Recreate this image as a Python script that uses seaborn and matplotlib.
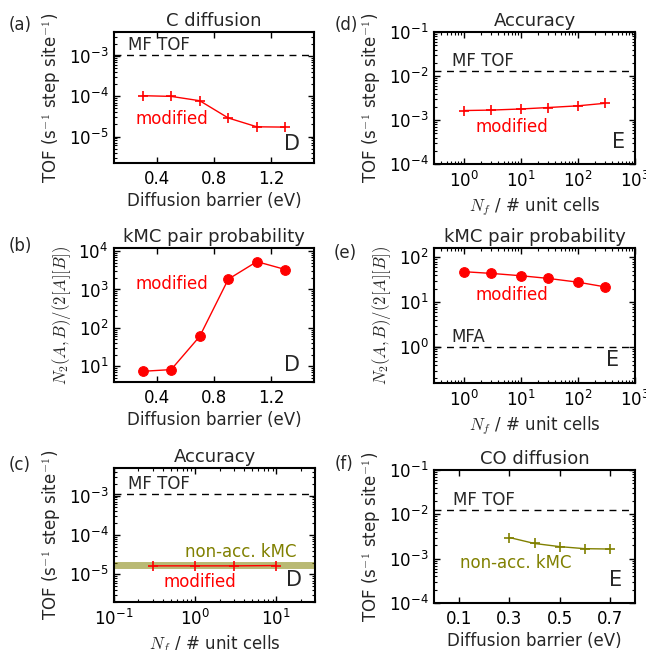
import numpy as np
import pandas as pd
import seaborn as sns
import matplotlib
matplotlib.use('Agg')
import matplotlib.pyplot as plt

# (a) C diffusion
a_barrier = [0.3, 0.5, 0.7, 0.9, 1.1, 1.3]
a_tof = [1.04e-4, 1.0e-4, 7.8e-5, 2.9e-5, 1.75e-5, 1.72e-5]
a_mf = 1.1e-3
# (b) pair probability vs C barrier
b_barrier = [0.3, 0.5, 0.7, 0.9, 1.1, 1.3]
b_pair = [7.4, 8.2, 60, 1850, 5300, 3300]
# (c) accuracy D
c_nf = [0.3, 1, 3, 10]
c_tof = [1.65e-5, 1.65e-5, 1.65e-5, 1.68e-5]
c_mf = 1.1e-3
c_nonacc = 1.7e-5
# (d) accuracy E
d_nf = [1, 3, 10, 30, 100, 300]
d_tof = [1.64e-3, 1.68e-3, 1.78e-3, 1.92e-3, 2.1e-3, 2.4e-3]
d_mf = 1.3e-2
# (e) pair probability E
e_nf = [1, 3, 10, 30, 100, 300]
e_pair = [48, 44, 39, 34, 28, 22]
e_mfa = 1.0
# (f) CO diffusion
f_barrier = [0.3, 0.4, 0.5, 0.6, 0.7]
f_tof = [3.0e-3, 2.2e-3, 1.87e-3, 1.68e-3, 1.65e-3]
f_mf = 1.28e-2

sns.set_style('ticks')
plt.rcParams['font.family'] = ['DejaVu Sans']
plt.rcParams['mathtext.fontset'] = 'cm'
plt.rcParams['font.size'] = 12
plt.rcParams['axes.linewidth'] = 1.5
for ax_ in ['xtick', 'ytick']:
    plt.rcParams[ax_ + '.direction'] = 'in'
    plt.rcParams[ax_ + '.major.size'] = 4
    plt.rcParams[ax_ + '.minor.size'] = 2
    plt.rcParams[ax_ + '.major.width'] = 1
    plt.rcParams[ax_ + '.minor.width'] = 0.8
    plt.rcParams[ax_ + '.color'] = 'black'
    plt.rcParams[ax_ + '.labelsize'] = 12
plt.rcParams['xtick.top'] = True
plt.rcParams['ytick.right'] = True
plt.rcParams['xtick.major.pad'] = 5
plt.rcParams['ytick.major.pad'] = 4

W, H = 646, 650
fig = plt.figure(figsize=(W / 100, H / 100), dpi=100)

def box(l, t, r, b):
    return fig.add_axes([l / W, 1 - b / H, (r - l) / W, (b - t) / H])

tof_label = 'TOF (s$^{-1}$ step site$^{-1}$)'
pair_label = '$N_2(A,B)/(2[A][B])$'
nf_label = '$N_f$ / # unit cells'
bar_label = 'Diffusion barrier (eV)'
red = '#ff0000'
olive = '#808000'
fs = 12

def decorate(ax, title, tag, tag_xy, ylab, xlab):
    ax.set_title(title, fontsize=13, pad=4)
    ax.set_ylabel(ylab, fontsize=fs)
    ax.set_xlabel(xlab, fontsize=fs, labelpad=3)
    fig.text(tag_xy[0] / W, 1 - tag_xy[1] / H, tag, fontsize=fs, ha='left', va='center')
    for s in ax.spines.values():
        s.set_visible(True)
        s.set_color('black')
    ax.tick_params(which='both', top=True, right=True, direction='in')

def hline_text(ax, y, label, x0):
    ax.axhline(y, color='black', ls='--', lw=1, dashes=(5, 4))
    ax.text(x0, y * 1.03, label, transform=ax.get_yaxis_transform(), fontsize=fs,
            ha='left', va='bottom')

mk = dict(marker='+', markersize=7.5, markeredgewidth=1.2, lw=1)

# (a)
ax = box(114, 32, 314, 163)
ax.set_yscale('log')
sns.lineplot(x=a_barrier, y=a_tof, ax=ax, color=red, markeredgecolor=red, **mk)
ax.set_xlim(0.1, 1.5)
ax.set_ylim(2.2e-6, 4e-3)
ax.set_xticks([0.4, 0.8, 1.2])
hline_text(ax, a_mf, 'MF TOF', 0.07)
ax.text(0.105, 0.336, 'modified', color=red, transform=ax.transAxes, fontsize=fs, va='center')
ax.text(0.93, 0.07, 'D', transform=ax.transAxes, fontsize=15, ha='right', va='bottom')
decorate(ax, 'C diffusion', '(a)', (9, 25), tof_label, bar_label)

# (b)
ax = box(114, 248, 314, 382)
ax.set_yscale('log')
sns.lineplot(x=b_barrier, y=b_pair, ax=ax, color=red, marker='o', markersize=7,
             markeredgecolor=red, lw=1)
ax.set_xlim(0.1, 1.5)
ax.set_ylim(3.9, 1.2e4)
ax.set_xticks([0.4, 0.8, 1.2])
ax.text(0.105, 0.73, 'modified', color=red, transform=ax.transAxes, fontsize=fs, va='center')
ax.text(0.93, 0.05, 'D', transform=ax.transAxes, fontsize=15, ha='right', va='bottom')
decorate(ax, 'kMC pair probability', '(b)', (9, 246), pair_label, bar_label)

# (c)
ax = box(114, 468, 315, 602)
ax.set_xscale('log')
ax.set_yscale('log')
ax.axhline(c_nonacc, color=olive, alpha=0.55, lw=5)
sns.lineplot(x=c_nf, y=c_tof, ax=ax, color=red, markeredgecolor=red, **mk)
ax.set_xlim(0.1, 30)
ax.set_ylim(2e-6, 5e-3)
hline_text(ax, c_mf, 'MF TOF', 0.07)
ax.text(0.91, 0.37, 'non-acc. kMC', color=olive, transform=ax.transAxes, fontsize=fs,
        ha='right', va='center')
ax.text(0.245, 0.15, 'modified', color=red, transform=ax.transAxes, fontsize=fs, va='center')
ax.text(0.935, 0.09, 'D', transform=ax.transAxes, fontsize=15, ha='right', va='bottom')
decorate(ax, 'Accuracy', '(c)', (9, 465), tof_label, nf_label)

# (d)
ax = box(434, 32, 635, 164)
ax.set_xscale('log')
ax.set_yscale('log')
sns.lineplot(x=d_nf, y=d_tof, ax=ax, color=red, markeredgecolor=red, **mk)
ax.set_xlim(0.3, 1000)
ax.set_ylim(1e-4, 1e-1)
hline_text(ax, d_mf, 'MF TOF', 0.09)
ax.text(0.204, 0.28, 'modified', color=red, transform=ax.transAxes, fontsize=fs, va='center')
ax.text(0.95, 0.09, 'E', transform=ax.transAxes, fontsize=15, ha='right', va='bottom')
decorate(ax, 'Accuracy', '(d)', (335, 25), tof_label, nf_label)

# (e)
ax = box(434, 248, 635, 383)
ax.set_xscale('log')
ax.set_yscale('log')
sns.lineplot(x=e_nf, y=e_pair, ax=ax, color=red, marker='o', markersize=7,
             markeredgecolor=red, lw=1)
ax.set_xlim(0.3, 1000)
ax.set_ylim(0.158, 162)
hline_text(ax, e_mfa, 'MFA', 0.085)
ax.text(0.204, 0.65, 'modified', color=red, transform=ax.transAxes, fontsize=fs, va='center')
ax.text(0.92, 0.1, 'E', transform=ax.transAxes, fontsize=15, ha='right', va='bottom')
decorate(ax, 'kMC pair probability', '(e)', (334, 253), pair_label, nf_label)

# (f)
ax = box(434, 470, 635, 603)
ax.set_yscale('log')
sns.lineplot(x=f_barrier, y=f_tof, ax=ax, color=olive, markeredgecolor=olive, **mk)
ax.set_xlim(0.0, 0.8)
ax.set_ylim(1e-4, 1e-1)
ax.set_xticks([0.1, 0.3, 0.5, 0.7])
hline_text(ax, f_mf, 'MF TOF', 0.095)
ax.text(0.13, 0.3, 'non-acc. kMC', color=olive, transform=ax.transAxes, fontsize=fs, va='center')
ax.text(0.935, 0.1, 'E', transform=ax.transAxes, fontsize=15, ha='right', va='bottom')
decorate(ax, 'CO diffusion', '(f)', (335, 464), tof_label, bar_label)

fig.savefig('out.png', dpi=100)
